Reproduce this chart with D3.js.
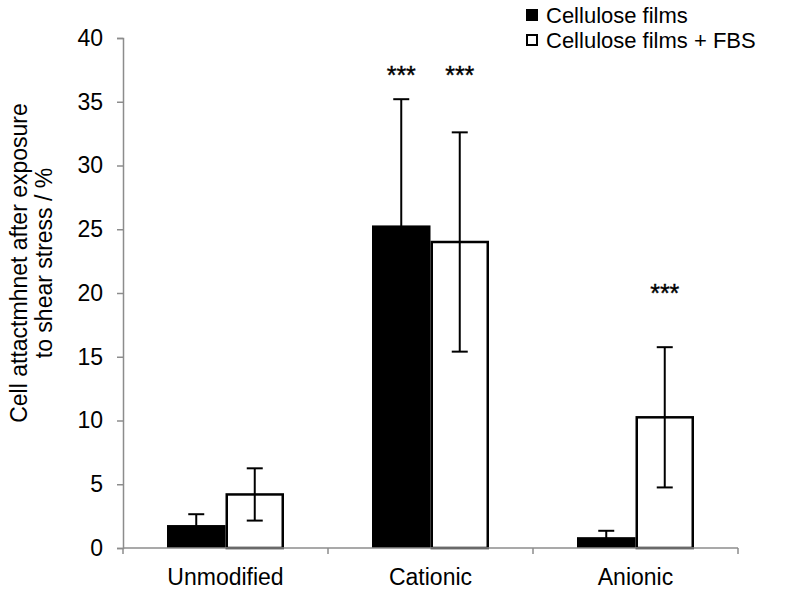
<!DOCTYPE html>
<html>
<head>
<meta charset="utf-8">
<script src="https://cdn.jsdelivr.net/npm/d3@7"></script>
<style>
  body { margin: 0; background: #fff; }
  text { font-family: "Liberation Sans", Arial, sans-serif; fill: #000; }
</style>
</head>
<body>
<div id="chart"></div>
<script>
// chart data
var categories = ['Unmodified', 'Cationic', 'Anionic'];
var seriesNames = ['Cellulose films', 'Cellulose films + FBS'];
var filmValues = [1.8, 25.3, 0.85];
var filmErrors = [0.85, 9.9, 0.5];
var fbsValues = [4.2, 24.0, 10.25];
var fbsErrors = [2.05, 8.6, 5.5];
// significance marks: [category, series, y position in data units]
var stars = [[1, 0, 37.55], [1, 1, 37.55], [2, 1, 20.5]];
var yTicks = [0, 5, 10, 15, 20, 25, 30, 35, 40];

var width = 787, height = 592;
var mLeft = 123, mRight = 738, mTop = 38, mBottom = 548;

var svg = d3.select('#chart').append('svg')
    .attr('width', width).attr('height', height);

var x0 = d3.scaleBand().domain(categories).range([mLeft, mRight]).padding(0);
var x1 = d3.scaleBand().domain([0, 1]).range([44, 205 - 44]).padding(0);
var y = d3.scaleLinear().domain([0, 40]).range([mBottom, mTop]);

var series = [
    { values: filmValues, errors: filmErrors, fill: '#000' },
    { values: fbsValues, errors: fbsErrors, fill: '#fff' }
];

// y axis
var yAxis = svg.append('g').attr('transform', 'translate(' + mLeft + ',0)')
    .call(d3.axisLeft(y).tickValues(yTicks).tickSize(6).tickPadding(14));
yAxis.select('.domain').attr('stroke', '#8c8c8c').attr('stroke-width', 1.5);
yAxis.selectAll('.tick line').attr('stroke', '#8c8c8c').attr('stroke-width', 1.5);
yAxis.selectAll('.tick text').attr('font-size', 23).attr('font-family', '"Liberation Sans", Arial, sans-serif').attr('fill', '#000');

// bars
series.forEach(function(s, si) {
    var g = svg.append('g');
    g.selectAll('rect').data(categories).enter().append('rect')
        .attr('x', function(c) { return x0(c) + x1(si) + (si == 1 ? 1.25 : 0); })
        .attr('y', function(c, i) { return y(s.values[i]); })
        .attr('width', x1.bandwidth() - (si == 1 ? 2.5 : 0))
        .attr('height', function(c, i) { return y(0) - y(s.values[i]); })
        .attr('fill', s.fill)
        .attr('stroke', '#000')
        .attr('stroke-width', si == 1 ? 2.5 : 0);
});

// x axis (drawn over bar bottoms)
var xAxis = svg.append('g').attr('transform', 'translate(0,' + mBottom + ')');
xAxis.append('line').attr('x1', mLeft).attr('x2', mRight).attr('stroke', '#8c8c8c').attr('stroke-width', 1.5);
xAxis.selectAll('.sep').data(d3.range(categories.length + 1)).enter().append('line')
    .attr('x1', function(i) { return mLeft + i * x0.step(); })
    .attr('x2', function(i) { return mLeft + i * x0.step(); })
    .attr('y1', 0).attr('y2', 6)
    .attr('stroke', '#8c8c8c').attr('stroke-width', 1.5);
xAxis.selectAll('.lbl').data(categories).enter().append('text')
    .attr('x', function(c) { return x0(c) + x0.bandwidth() / 2; })
    .attr('y', 37)
    .attr('text-anchor', 'middle')
    .attr('font-size', 23)
    .text(function(c) { return c; });

// error bars
series.forEach(function(s, si) {
    categories.forEach(function(c, i) {
        var cx = x0(c) + x1(si) + x1.bandwidth() / 2;
        var hi = s.values[i] + s.errors[i];
        var lo = Math.max(s.values[i] - s.errors[i], 0);
        var g = svg.append('g').attr('stroke', '#000').attr('stroke-width', 2);
        g.append('line').attr('x1', cx).attr('x2', cx).attr('y1', y(hi)).attr('y2', y(lo));
        g.append('line').attr('x1', cx - 8).attr('x2', cx + 8).attr('y1', y(hi)).attr('y2', y(hi));
        if (lo > 0 && si == 1) {
            g.append('line').attr('x1', cx - 8).attr('x2', cx + 8).attr('y1', y(lo)).attr('y2', y(lo));
        }
    });
});

// significance stars
svg.selectAll('.star').data(stars).enter().append('text')
    .attr('x', function(d) { return x0(categories[d[0]]) + x1(d[1]) + x1.bandwidth() / 2; })
    .attr('y', function(d) { return y(d[2]); })
    .attr('dy', '0.6em')
    .attr('text-anchor', 'middle')
    .attr('font-size', 25)
    .attr('stroke', '#000').attr('stroke-width', 0.4)
    .text('***');

// y title
var yt = svg.append('text')
    .attr('transform', 'translate(30,263) rotate(-90)')
    .attr('text-anchor', 'middle')
    .attr('font-size', 23);
yt.append('tspan').attr('x', 0).attr('dy', '-0.15em').text('Cell attactmhnet after exposure');
yt.append('tspan').attr('x', 0).attr('dy', '1.1em').text('to shear stress / %');

// legend
var legend = svg.append('g').attr('transform', 'translate(526,0)');
seriesNames.forEach(function(name, i) {
    var ly = 15 + i * 25;
    legend.append('rect')
        .attr('x', i == 1 ? 1 : 0).attr('y', ly - 6 + (i == 1 ? 1 : 0))
        .attr('width', i == 1 ? 10 : 12).attr('height', i == 1 ? 10 : 12)
        .attr('fill', i == 0 ? '#000' : '#fff')
        .attr('stroke', '#000').attr('stroke-width', i == 1 ? 2 : 0);
    legend.append('text').attr('x', 20).attr('y', ly).attr('dy', '0.35em')
        .attr('font-size', 22).text(name);
});
</script>
</body>
</html>
